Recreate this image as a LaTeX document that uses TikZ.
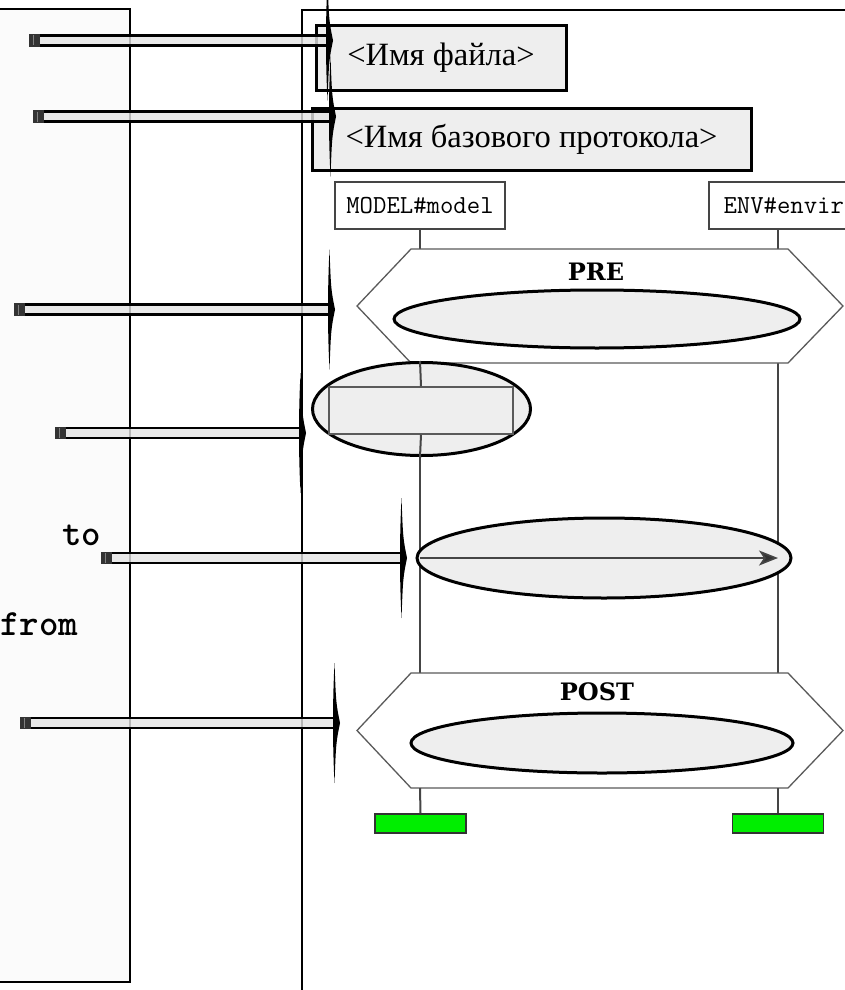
\documentclass[tikz,border=0pt]{standalone}
\usepackage{fontspec}
\setmainfont{Liberation Serif}
\newfontfamily\monof{Latin Modern Mono}
\newfontfamily\monob{lmmonolt10-bold.otf}
\newfontfamily\slabf{DejaVu Serif}
\usetikzlibrary{arrows.meta,shapes.geometric}
\definecolor{boxgray}{HTML}{EEEEEE}
\definecolor{bargray}{HTML}{E4E4E4}
\definecolor{linegray}{HTML}{454545}
\definecolor{hexgray}{HTML}{5A5A5A}
\definecolor{panelgray}{HTML}{FBFBFB}
\definecolor{endgray}{HTML}{333333}
\definecolor{tagreen}{HTML}{00EE00}
\newcommand\drawpointer[2]{%
  \draw[barinner] (#1) -- (#2);
  \draw[baredge] ([yshift=5pt]#1) -- ([yshift=5pt]#2);
  \draw[baredge] ([yshift=-5pt]#1) -- ([yshift=-5pt]#2);
  \fill[endgray] ([shift={(0,-6.3)}]#1) rectangle ([shift={(11,6.3)}]#1);
  \draw[gray,line width=0.8pt] ([shift={(4,-5)}]#1) -- ([shift={(4,5)}]#1);
  \fill[black] ([shift={(-3.5,-60)}]#2) .. controls ([shift={(-2,-20)}]#2) .. ([shift={(2,0)}]#2)
     .. controls ([shift={(-2,20)}]#2) .. ([shift={(-3.5,60)}]#2)
     .. controls ([shift={(-5.5,20)}]#2) and ([shift={(-5.5,-20)}]#2) .. cycle;
}
\begin{document}
\begin{tikzpicture}[x=1pt,y=-1pt,
  panel/.style={draw=black,line width=2.5pt},
  labelbox/.style={draw=black,line width=3pt,fill=boxgray,inner sep=0pt,font=\fontsize{32.5}{38}\selectfont},
  objbox/.style={draw=linegray,line width=1.5pt,fill=white,inner sep=5pt,minimum height=47pt,font=\monof\fontsize{26}{28}\selectfont},
  lifeline/.style={draw=linegray,line width=2pt},
  hexframe/.style={draw=hexgray,line width=1.3pt,fill=white},
  condtitle/.style={font=\slabf\bfseries\fontsize{24}{28}\selectfont,inner sep=0pt},
  callout/.style={ellipse,draw=black,line width=3pt,fill=boxgray,inner sep=0pt},
  actbox/.style={draw=hexgray,line width=1.5pt,fill=boxgray,inner sep=0pt},
  endbar/.style={draw=endgray,line width=1.5pt,fill=tagreen,minimum width=91pt,minimum height=19pt,inner sep=0pt},
  monolabel/.style={font=\monob\fontsize{37}{40}\selectfont,inner sep=0pt},
  msgline/.style={draw=linegray,line width=1.6pt,-{Stealth[length=19pt,width=15pt,inset=5pt,fill=endgray]}},
  barinner/.style={draw=bargray,line width=7.5pt,draw opacity=0.8},
  baredge/.style={draw=black,line width=2.6pt}
]
\useasboundingbox (0,0) rectangle (845,990);
\clip (0,0) rectangle (845,990);
\fill[white] (0,0) rectangle (845,990);

% panels
\filldraw[panel,fill=panelgray] (-10,9) rectangle (130,982);
\filldraw[panel,fill=white] (302,10) rectangle (900,1050);

% header boxes
\node[labelbox,minimum width=250pt,minimum height=64pt] (fname) at (441,58) {<Имя файла>};
\node[labelbox,minimum width=439pt,minimum height=62pt] (bproto) at (531.5,139) {<Имя базового протокола>};

% instances
\node[objbox,minimum width=170pt] (model) at (420,205.5) {MODEL\#model};
\node[objbox,anchor=west,minimum width=150pt] (envir) at (708,205.5) {ENV\#envir};
\coordinate (mx) at (420,0);
\coordinate (ex) at (778,0);

% hexagon coordinates
\coordinate (preTL) at (411,249); \coordinate (preTR) at (788,249);
\coordinate (preR) at (843,306);  \coordinate (preBR) at (788,363);
\coordinate (preBL) at (411,363); \coordinate (preL) at (357,306);
\coordinate (postTL) at (411,673); \coordinate (postTR) at (788,673);
\coordinate (postR) at (843,730.5); \coordinate (postBR) at (788,788);
\coordinate (postBL) at (411,788);  \coordinate (postL) at (357,730.5);

% lifelines
\draw[lifeline] (model.south) -- (mx |- preTL);
\draw[lifeline] (ex |- envir.south) -- (ex |- preTL);
\draw[lifeline] (mx |- preBL) -- (mx |- postTL);
\draw[lifeline] (ex |- preBR) -- (ex |- postTR);

% PRE
\draw[hexframe] (preTL) -- (preTR) -- (preR) -- (preBR) -- (preBL) -- (preL) -- cycle;
\node[condtitle] (pretitle) at (596,272) {PRE};
\node[callout,minimum width=406pt,minimum height=58pt] (preE) at (597,319) {};

% action
\node[callout,minimum width=218pt,minimum height=93pt] (actE) at (421.5,409) {};
\node[actbox,minimum width=184pt,minimum height=47pt] (act) at (421,410.5) {};
\draw[lifeline] (mx |- actE.north) -- (act.north);
\draw[lifeline] (act.south) -- (mx |- actE.south);

% message
\node[callout,minimum width=374pt,minimum height=80pt] (msgE) at (604,558) {};
\draw[msgline] (mx |- msgE.center) -- (ex |- msgE.center);

% POST
\draw[hexframe] (postTL) -- (postTR) -- (postR) -- (postBR) -- (postBL) -- (postL) -- cycle;
\node[condtitle] (posttitle) at (597,692) {POST};
\node[callout,minimum width=382pt,minimum height=60pt] (postE) at (602,743) {};

% ends
\node[endbar] (mEnd) at (420.5,823.5) {};
\node[endbar] (eEnd) at (778,823.5) {};
\draw[lifeline] (mx |- postBL) -- (mEnd.north);
\draw[lifeline] (ex |- postBR) -- (eEnd.north);

% labels
\node[monolabel,anchor=base west] (tolab) at (62,545) {to};
\node[monolabel,anchor=base west] (fromlab) at (0,635) {from};

% pointers
\coordinate (p1s) at (29,40.5);  \coordinate (p1e) at (331,40.5);
\coordinate (p2s) at (33,116.5); \coordinate (p2e) at (334,116.5);
\coordinate (p3s) at (14,309.5); \coordinate (p3e) at (333,309.5);
\coordinate (p4s) at (55,433);   \coordinate (p4e) at (304,433);
\coordinate (p5s) at (101,558);  \coordinate (p5e) at (405,558);
\coordinate (p6s) at (20,723);   \coordinate (p6e) at (338,723);
\drawpointer{p1s}{p1e}
\drawpointer{p2s}{p2e}
\drawpointer{p3s}{p3e}
\drawpointer{p4s}{p4e}
\drawpointer{p5s}{p5e}
\drawpointer{p6s}{p6e}
\end{tikzpicture}
\end{document}
